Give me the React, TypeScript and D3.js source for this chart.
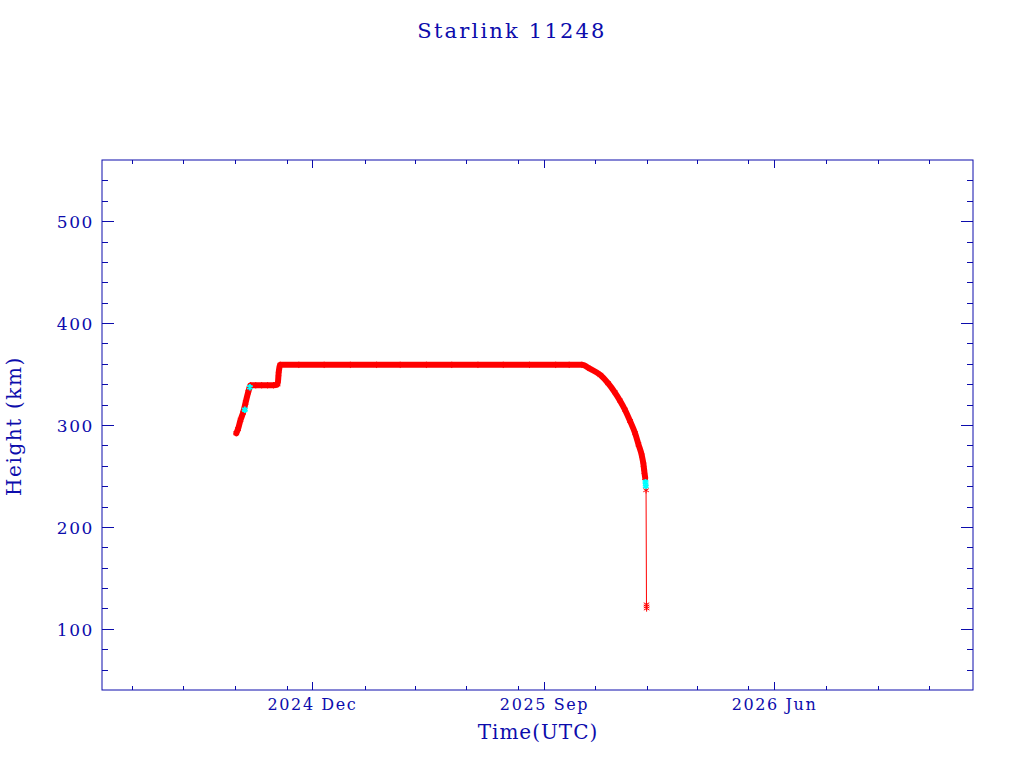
import React from 'react';
import * as d3 from 'd3';

// Orbit height samples (UTC date, km)
const sampleDates = [
  '2024-09-02', '2024-09-04', '2024-09-07', '2024-09-10', '2024-09-13', '2024-09-16',
  '2024-09-19', '2024-09-25', '2024-10-02', '2024-10-09', '2024-10-16', '2024-10-21',
  '2024-10-22', '2024-10-24', '2024-11-15', '2024-12-15', '2025-01-15', '2025-02-15',
  '2025-03-15', '2025-04-15', '2025-05-15', '2025-06-15', '2025-07-15', '2025-08-15',
  '2025-09-15', '2025-10-01', '2025-10-16', '2025-10-26', '2025-11-07', '2025-11-16',
  '2025-11-24', '2025-11-30', '2025-12-06', '2025-12-12', '2025-12-18', '2025-12-22',
  '2025-12-26', '2025-12-28', '2025-12-29', '2025-12-30',
];
const sampleHeights = [
  292, 296, 305, 312, 322, 332,
  339, 339, 339, 339, 339, 340,
  350, 359, 359, 359, 359, 359,
  359, 359, 359, 359, 359, 359,
  359, 359, 359, 355, 349, 341,
  332, 324, 315, 304, 292, 281,
  270, 261, 254, 248,
];

// final re-entry samples, joined by the thin line
const dropDates = ['2025-12-30', '2025-12-31', '2025-12-31T12:00', '2025-12-31T14:00', '2025-12-31T16:00'];
const dropHeights = [248, 236, 124, 122, 120];

// samples drawn in cyan
const cyanDates = ['2024-09-12', '2024-09-18', '2025-12-30T08:00', '2025-12-30T16:00'];
const cyanHeights = [315, 337, 244, 240];

const majorDates = ['2024-12-01', '2025-09-01', '2026-06-01'];
const majorLabels = ['2024 Dec', '2025 Sep', '2026 Jun'];
const minorDates = [
  '2024-05-01', '2024-07-01', '2024-09-01', '2024-11-01', '2025-02-01', '2025-04-01',
  '2025-06-01', '2025-08-01', '2025-11-01', '2026-01-01', '2026-03-01', '2026-05-01',
  '2026-08-01', '2026-10-01', '2026-12-01',
];
const yMajor = [100, 200, 300, 400, 500];
const yMinor = d3.range(60, 560, 20).filter(v => v % 100 !== 0);

const parse = (s: string) => new Date(s.includes('T') ? s + 'Z' : s + 'T00:00:00Z');

const BLUE = '#0c0cac';
const RED = '#ff0000';
const CYAN = '#00ffff';
const FONT = '"DejaVu Serif", serif';

export default function App() {
  const W = 1024, H = 768;
  const left = 102, right = 973, top = 160, bottom = 690;

  const x = d3.scaleUtc()
    .domain([parse('2024-03-27'), parse('2027-01-22')])
    .range([left, right]);
  const y = d3.scaleLinear().domain([40, 560]).range([bottom, top]);

  const pts = sampleDates.map((d, i) => [x(parse(d)), y(sampleHeights[i])] as [number, number]);
  const drop = dropDates.map((d, i) => [x(parse(d)), y(dropHeights[i])] as [number, number]);
  const cyan = cyanDates.map((d, i) => [x(parse(d)), y(cyanHeights[i])] as [number, number]);

  const line = d3.line<[number, number]>().curve(d3.curveMonotoneX);
  const straight = d3.line<[number, number]>();
  const star = d3.symbol(d3.symbolAsterisk, 28)() || '';

  return (
    <div style={{ position: 'fixed', left: 0, top: 0 }}>
      <svg width={W} height={H} style={{ display: 'block', background: '#fff' }}>
        <text x={512} y={38} textAnchor="middle" fill={BLUE} fontFamily={FONT} fontSize={21} letterSpacing={2.2}>
          Starlink 11248
        </text>

        {/* frame */}
        <rect x={left} y={top} width={right - left} height={bottom - top} fill="none" stroke={BLUE} strokeWidth={1} />

        {/* x ticks, bottom and top */}
        {minorDates.map(d => {
          const px = Math.round(x(parse(d))) + 0.5;
          return (
            <g key={'mx' + d}>
              <line x1={px} x2={px} y1={bottom} y2={bottom - 4} stroke={BLUE} />
              <line x1={px} x2={px} y1={top} y2={top + 4} stroke={BLUE} />
            </g>
          );
        })}
        {majorDates.map((d, i) => {
          const px = Math.round(x(parse(d))) + 0.5;
          return (
            <g key={'Mx' + d}>
              <line x1={px} x2={px} y1={bottom} y2={bottom - 8} stroke={BLUE} />
              <line x1={px} x2={px} y1={top} y2={top + 8} stroke={BLUE} />
              <text x={px} y={710} textAnchor="middle" fill={BLUE} fontFamily={FONT} fontSize={16} letterSpacing={1.6}>
                {majorLabels[i]}
              </text>
            </g>
          );
        })}

        {/* y ticks, left and right */}
        {yMinor.map(v => {
          const py = Math.round(y(v)) + 0.5;
          return (
            <g key={'my' + v}>
              <line x1={left} x2={left + 6} y1={py} y2={py} stroke={BLUE} />
              <line x1={right} x2={right - 6} y1={py} y2={py} stroke={BLUE} />
            </g>
          );
        })}
        {yMajor.map(v => {
          const py = Math.round(y(v)) + 0.5;
          return (
            <g key={'My' + v}>
              <line x1={left} x2={left + 12} y1={py} y2={py} stroke={BLUE} />
              <line x1={right} x2={right - 12} y1={py} y2={py} stroke={BLUE} />
              <text x={94} y={py + 6} textAnchor="end" fill={BLUE} fontFamily={FONT} fontSize={17} letterSpacing={1.6}>
                {v}
              </text>
            </g>
          );
        })}

        <text x={538} y={739} textAnchor="middle" fill={BLUE} fontFamily={FONT} fontSize={20} letterSpacing={1}>
          Time(UTC)
        </text>
        <text transform="translate(21,426) rotate(-90)" textAnchor="middle" fill={BLUE} fontFamily={FONT} fontSize={20} letterSpacing={1.6}>
          Height (km)
        </text>

        {/* data */}
        <path d={line(pts) || ''} fill="none" stroke={RED} strokeWidth={6} strokeLinejoin="round" strokeLinecap="round" />
        <path d={straight(drop) || ''} fill="none" stroke={RED} strokeWidth={1} />
        {pts.concat(drop).map((p, i) => (
          <path key={'s' + i} d={star} transform={`translate(${p[0]},${p[1]})`} fill="none" stroke={RED} strokeWidth={1} />
        ))}
        {cyan.map((p, i) => (
          <path key={'c' + i} d={star} transform={`translate(${p[0]},${p[1]})`} fill="none" stroke={CYAN} strokeWidth={2} />
        ))}
      </svg>
    </div>
  );
}
